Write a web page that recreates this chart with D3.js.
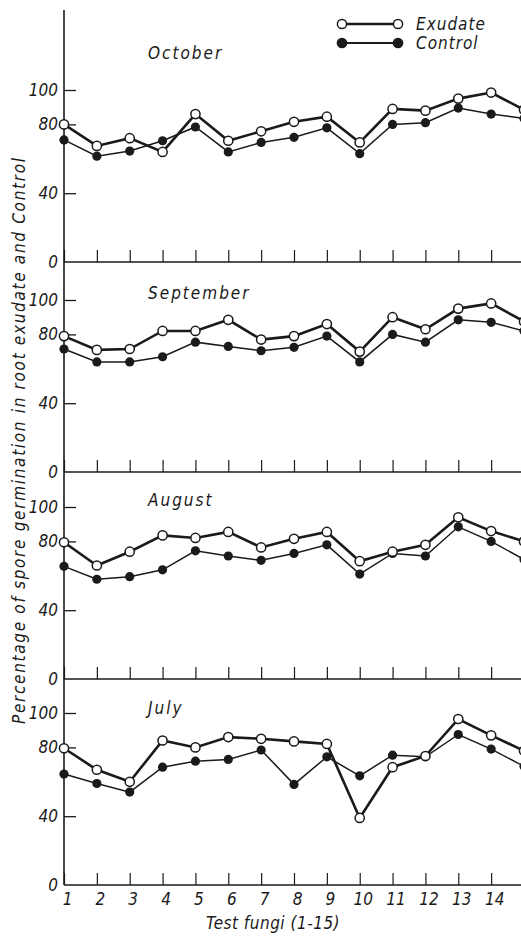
<!DOCTYPE html>
<html>
<head>
<meta charset="utf-8">
<script src="https://cdn.jsdelivr.net/npm/d3@7"></script>
<style>
  html, body { margin: 0; padding: 0; background: #fff; }
  svg { display: block; }
  text { font-family: "Liberation Sans Narrow", "DejaVu Sans Condensed", "Liberation Sans", sans-serif; font-style: italic; fill: #1a1a1a; }
</style>
</head>
<body>
<svg id="chart" width="521" height="936"></svg>
<script>
// ---- data ----
const fungi = [1, 2, 3, 4, 5, 6, 7, 8, 9, 10, 11, 12, 13, 14, 15];
const months = ["October", "September", "August", "July"];
const yTickValues = [0, 40, 80, 100];
const xTickValues = [1, 2, 3, 4, 5, 6, 7, 8, 9, 10, 11, 12, 13, 14];
const seriesNames = ["Exudate", "Control"];

const octExudate = [80, 67.5, 72, 64, 86, 70.5, 76, 81.5, 84.5, 69.5, 89, 88, 95, 98.5, 88.5];
const octControl = [71, 61.5, 64.5, 70.5, 78.5, 64, 69.5, 72.5, 78, 63, 80, 81, 89.5, 86, 83.5];
const sepExudate = [79, 71, 71.5, 82, 82, 88.5, 77, 79, 86, 70, 90, 83, 95, 98, 87.5];
const sepControl = [71.5, 64, 64, 67, 75.5, 73, 70.5, 72.5, 79, 64, 80, 75.5, 88.5, 87, 82];
const augExudate = [79.5, 66, 74, 83.5, 82, 85.5, 76.5, 81.5, 85.5, 68.5, 74, 78, 94, 86, 80];
const augControl = [65.5, 58, 59.5, 63.5, 74.5, 71.5, 69, 73, 78, 61, 73, 71.5, 88.5, 80, 69.5];
const julExudate = [79.5, 67, 60, 84, 80, 86, 85, 83.5, 82, 39, 68.5, 75, 96.5, 87, 78];
const julControl = [64.5, 59, 54, 68.5, 72, 73, 78.5, 58.5, 74.5, 63.5, 75.5, 74.5, 87.5, 79, 69];

const exudateByMonth = [octExudate, sepExudate, augExudate, julExudate];
const controlByMonth = [octControl, sepControl, augControl, julControl];

// ---- layout ----
const axisX = 64;
const baselines = [262, 472, 679, 885];
const titleOffsets = [-31, -1, -1, 1];
const unitPx = 1.72;
const ink = "#1a1a1a";

const svg = d3.select("#chart");

const x = d3.scaleLinear().domain([1, 15]).range([axisX, 524]);

// main vertical axis line
svg.append("line")
  .attr("x1", axisX).attr("x2", axisX)
  .attr("y1", 10).attr("y2", baselines[3])
  .attr("stroke", ink).attr("stroke-width", 1.6);

months.forEach((m, i) => {
  const base = baselines[i];
  const y = d3.scaleLinear().domain([0, 100]).range([base, base - 100 * unitPx]);
  const g = svg.append("g");

  // y axis (ticks inside, labels left)
  const yAxis = d3.axisLeft(y).tickValues(yTickValues).tickSizeInner(-12).tickSizeOuter(0).tickPadding(6)
    .tickFormat(d => d);
  const ya = g.append("g").attr("transform", `translate(${axisX},0)`).call(yAxis);
  ya.select(".domain").remove();
  ya.selectAll(".tick line").attr("stroke", ink).attr("stroke-width", 1.3)
    .filter(d => d === 0).remove();
  ya.selectAll(".tick text").attr("font-size", 17).attr("fill", ink)
    .style("font-family", '"Liberation Sans Narrow", "DejaVu Sans Condensed", sans-serif')
    .style("font-style", "italic");

  // x axis (ticks upward)
  const xAxis = d3.axisBottom(x).tickValues(xTickValues).tickSizeInner(-12).tickSizeOuter(0).tickPadding(8)
    .tickFormat(i === 3 ? (d => d) : () => "");
  const xa = g.append("g").attr("transform", `translate(0,${base})`).call(xAxis);
  xa.select(".domain").attr("d", `M${axisX},0H521`).attr("stroke", ink).attr("stroke-width", 1.6);
  xa.selectAll(".tick line").attr("stroke", ink).attr("stroke-width", 1.2);
  xa.selectAll(".tick text").attr("font-size", 17).attr("fill", ink)
    .style("font-family", '"Liberation Sans Narrow", "DejaVu Sans Condensed", sans-serif')
    .style("font-style", "italic").attr("dx", 3);

  // month title
  g.append("text").attr("x", 148).attr("y", y(100) + titleOffsets[i])
    .attr("font-size", 17).attr("letter-spacing", 2).text(m);

  const line = d3.line().x((d, k) => x(fungi[k])).y(d => y(d));

  // control
  g.append("path").datum(controlByMonth[i]).attr("d", line)
    .attr("fill", "none").attr("stroke", ink).attr("stroke-width", 1.5);
  // exudate
  g.append("path").datum(exudateByMonth[i]).attr("d", line)
    .attr("fill", "none").attr("stroke", ink).attr("stroke-width", 2.6);

  g.selectAll(".cpt").data(controlByMonth[i]).enter().append("circle")
    .attr("cx", (d, k) => x(fungi[k])).attr("cy", d => y(d)).attr("r", 4.6)
    .attr("fill", ink);
  g.selectAll(".ept").data(exudateByMonth[i]).enter().append("circle")
    .attr("cx", (d, k) => x(fungi[k])).attr("cy", d => y(d)).attr("r", 4.6)
    .attr("fill", "#fff").attr("stroke", ink).attr("stroke-width", 1.5);
});

// legend
const leg = svg.append("g");
seriesNames.forEach((s, k) => {
  const ly = 24 + k * 19;
  leg.append("line").attr("x1", 342).attr("x2", 398).attr("y1", ly).attr("y2", ly)
    .attr("stroke", ink).attr("stroke-width", k === 0 ? 2.4 : 2);
  [342, 398].forEach(cx => {
    leg.append("circle").attr("cx", cx).attr("cy", ly).attr("r", 4.6)
      .attr("fill", k === 0 ? "#fff" : ink).attr("stroke", ink).attr("stroke-width", 1.5);
  });
  leg.append("text").attr("x", 416).attr("y", ly + 6).attr("font-size", 17).attr("letter-spacing", 1).text(s);
});

// axis titles
svg.append("text")
  .attr("transform", `translate(25,441) rotate(-90)`)
  .attr("text-anchor", "middle").attr("font-size", 17)
  .attr("textLength", 566).attr("lengthAdjust", "spacing")
  .text("Percentage of spore germination in root exudate and Control");

svg.append("text").attr("x", 273).attr("y", 929).attr("text-anchor", "middle")
  .attr("font-size", 17).attr("letter-spacing", 0.5).text("Test fungi (1-15)");
</script>
</body>
</html>
